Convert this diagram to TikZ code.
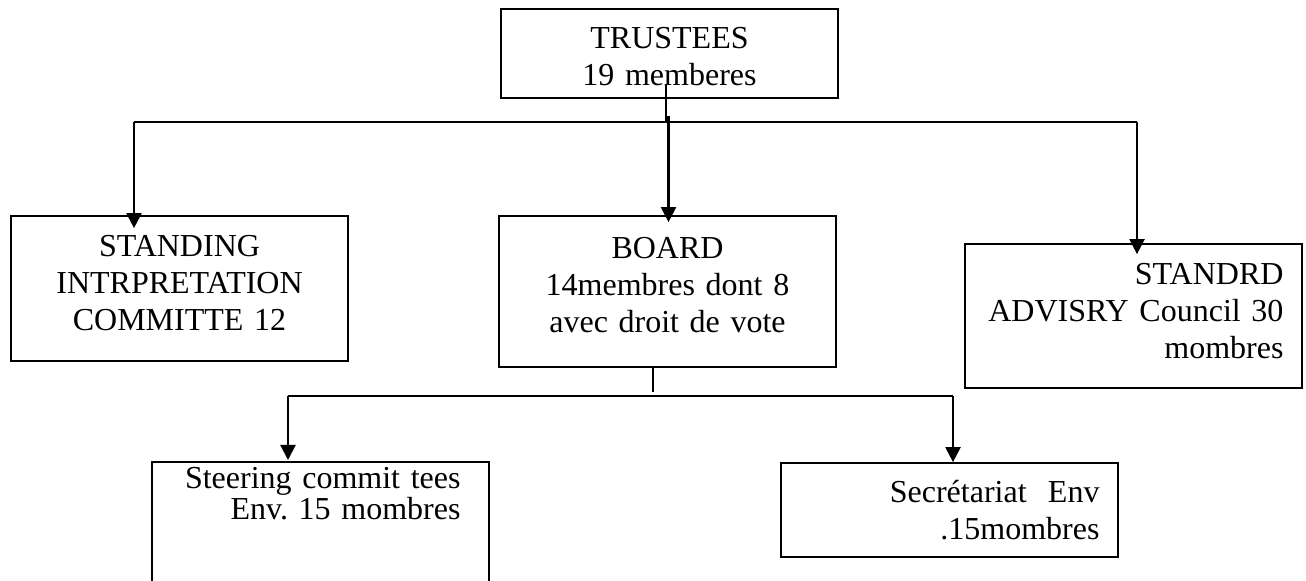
\documentclass[tikz,border=0pt]{standalone}
\usepackage{fontspec}
\setmainfont{Liberation Serif}
\usetikzlibrary{arrows.meta}
\begin{document}
\begin{tikzpicture}[x=0.5pt,y=-0.5pt,>={Triangle[length=7.5pt,width=7.5pt]}]
  \tikzset{
  org_line/.style = {draw=black, line width=0.85pt},% trait des boites
  org_box/.style = {org_line, rectangle, inner xsep=9.25pt, inner ysep=2pt,
    text width=150pt, font=\fontsize{16}{18.5}\selectfont},% boite
  org_c/.style = {org_box, align=center},% texte centre
  org_r/.style = {org_box, align=right},% texte a droite
  wire/.style = {draw=black, line width=1.1pt},% liaison
  arrow/.style = {wire, ->}% liaison avec fleche
}
\useasboundingbox (0,0) rectangle (1306,581);
\clip (0,0) rectangle (1306,581);

\node [org_c, minimum height=44.5pt, text depth=15.5pt] (trustees) at (669.5,53.5)
  {TRUSTEES\\19 memberes};
\node [org_c, minimum height=72.5pt, text depth=43pt] (standing) at (179.5,288.5)
  {STANDING\\INTRPRETATION\\COMMITTE 12};
\node [org_c, minimum height=75.5pt, text depth=44pt] (board) at (667.5,291.5)
  {BOARD\\14membres dont 8\\avec droit de vote};
\node [org_r, minimum height=72pt, text depth=42pt] (standard) at (1133.5,316)
  {STANDRD\\ADVISRY Council 30\\mombres};
\node [org_r, minimum height=47pt] (secretariat) at (949.5,510)
  {Secrétariat\ \ Env\\.15mombres};
\node [org_r, draw=none, anchor=north, text width=140pt, inner xsep=13.75pt,
  inner ysep=2pt, font=\fontsize{16}{15.5}\selectfont] (steering) at (320.5,462)
  {Steering commit tees\\Env.\ 15 mombres};
% boite du bas, coupee par le bord
\draw [org_line] ([yshift=-70pt]steering.north west) -- (steering.north west)
  -- (steering.north east) -- ([yshift=-70pt]steering.north east);

\coordinate (busW) at (134,121.7);
\coordinate (busE) at (1137,121.7);
\coordinate (busM) at (666,121.7);
\coordinate (boardIn) at (668.5,116);
\coordinate (lowW) at (288,396);
\coordinate (lowE) at (953,396);
\coordinate (lowM) at (653,392);

\draw [wire] ([xshift=-1.75pt,yshift=7.5pt]trustees.south) -- (busM);
\draw [wire] (busW) -- (busE);
\draw [arrow] (busW) -- ([yshift=-6.5pt]busW |- standing.north);
\draw [arrow] (boardIn) -- ([yshift=-3.5pt]boardIn |- board.north);
\draw [arrow] (busE) -- ([yshift=-5.5pt]busE |- standard.north);
\draw [wire] ([xshift=-7.25pt]board.south) -- (lowM);
\draw [wire] (lowW) -- (lowE);
\draw [arrow] (lowW) -- ([yshift=1pt]lowW |- steering.north);
\draw [arrow] (lowE) -- (lowE |- secretariat.north);
\end{tikzpicture}
\end{document}
